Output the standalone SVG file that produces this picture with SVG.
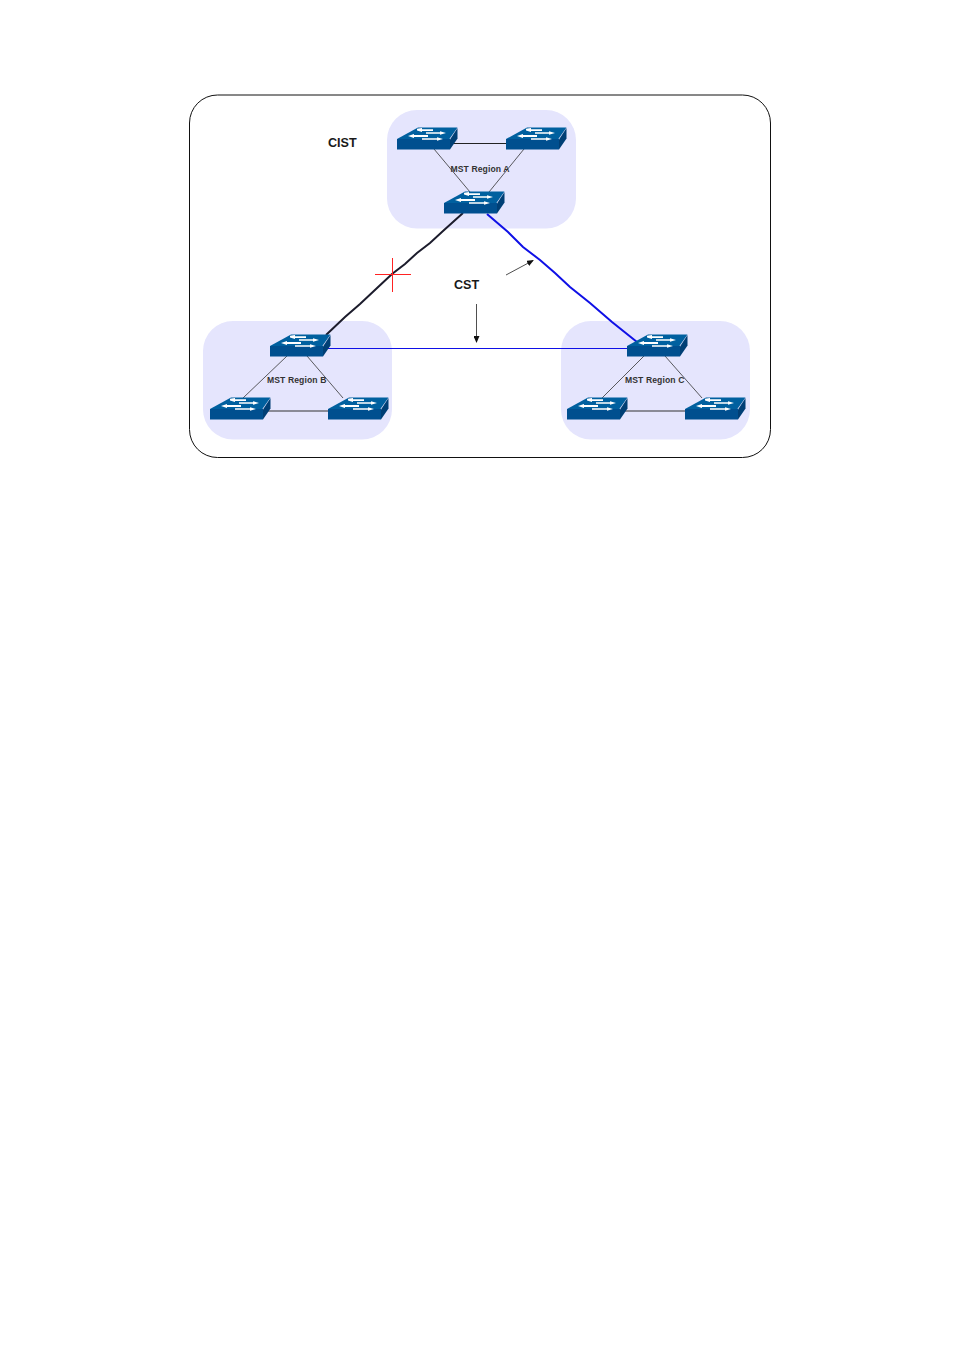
<svg xmlns="http://www.w3.org/2000/svg" xmlns:xlink="http://www.w3.org/1999/xlink" width="955" height="1350" viewBox="0 0 955 1350">
<style>
text{font-family:"Liberation Sans",Arial,sans-serif;font-weight:bold;fill:#1a1a1a}
.big{font-size:12.6px}
.small{font-size:8.6px;fill:#333;letter-spacing:.1px}
.region{fill:#e5e5fd}
.thin{fill:none;stroke:#333;stroke-width:.8}
.flat{fill:none;stroke:#222;stroke-width:1}
</style>
<defs>
<marker id="ah" markerWidth="7" markerHeight="6" refX="6" refY="3" orient="auto" markerUnits="userSpaceOnUse"><path d="M0 0L7 3L0 6Z" fill="#111"/></marker>
<symbol id="sw" width="62" height="24" viewBox="0 0 62 24" overflow="visible">
<path d="M0 12L21 0.500H60.500L52 12.500Z" fill="#00609f"/>
<path d="M0 12H53V22.500H0Z" fill="#004f8f"/>
<path d="M53 12.500L60.500 1V11.500L53 22.500Z" fill="#003f75"/>
<g fill="#fff">
<path d="M20 1.800L25 1V2.200H36V4H25V5L20 3.500Z"/>
<path d="M29 5.200H43V4.200L49 6L43 7.800V6.800H29Z"/>
<path d="M11 9L17 7V8.100H31V9.900H17V11Z"/>
<path d="M25 11.200H40V10.200L46 12L40 13.800V12.800H25Z"/>
</g>
</symbol>
</defs>
<rect width="955" height="1350" fill="#fff"/>
<rect x="189.500" y="95" width="581" height="362.500" rx="28" fill="#fff" stroke="#111" stroke-width="1"/>
<rect class="region" x="387" y="110" width="189" height="118.500" rx="30"/>
<rect class="region" x="203" y="321" width="189" height="118.500" rx="30"/>
<rect class="region" x="561" y="321" width="189" height="118.500" rx="30"/>
<g id="connectors">
<path class="flat" d="M448 143.500H516"/>
<path class="thin" d="M434 149L470 192M524 149L489 192"/>
<path class="thin" d="M287 356L243 398M307 356L343 398M644 356L602 398M665 356L702 398"/>
<path d="M250 411H340M607 411H697" fill="none" stroke="#333" stroke-width="1.100"/>
<path d="M463 213L443 231L430 243L417 253L405 264L392 274L376 289L360 304L345 317L326 335" fill="none" stroke="#1c1c2c" stroke-width="2"/>
<path d="M487 214L508 232L523 247L540 260L555 273L570 287L590 303L612 322L637 342" fill="none" stroke="#0f10e6" stroke-width="2"/>
<path d="M322 348.500H636" fill="none" stroke="#0f10e6" stroke-width="1.200"/>
<path d="M375 274.500H411M392.500 258V292" fill="none" stroke="#f22" stroke-width="1"/>
<path d="M506 275L533 260.500" fill="none" stroke="#222" stroke-width=".8" marker-end="url(#ah)"/>
<path d="M476.500 304V342" fill="none" stroke="#222" stroke-width=".8" marker-end="url(#ah)"/>
</g>
<g id="switch-a1"><use xlink:href="#sw" href="#sw" x="397" y="127"/></g>
<g id="switch-a2"><use xlink:href="#sw" href="#sw" x="506" y="127"/></g>
<g id="switch-a3"><use xlink:href="#sw" href="#sw" x="444" y="191"/></g>
<g id="switch-b1"><use xlink:href="#sw" href="#sw" x="270" y="334"/></g>
<g id="switch-b2"><use xlink:href="#sw" href="#sw" x="210" y="397"/></g>
<g id="switch-b3"><use xlink:href="#sw" href="#sw" x="328" y="397"/></g>
<g id="switch-c1"><use xlink:href="#sw" href="#sw" x="627" y="334"/></g>
<g id="switch-c2"><use xlink:href="#sw" href="#sw" x="567" y="397"/></g>
<g id="switch-c3"><use xlink:href="#sw" href="#sw" x="685" y="397"/></g>
<text class="big" x="328" y="147">CIST</text>
<text class="big" x="454" y="289">CST</text>
<text class="small" x="450.500" y="172">MST Region A</text>
<text class="small" x="267" y="383">MST Region B</text>
<text class="small" x="625" y="383">MST Region C</text>
</svg>
